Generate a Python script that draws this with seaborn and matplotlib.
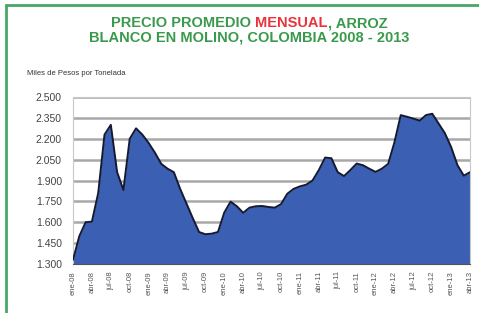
import numpy as np
import pandas as pd
import matplotlib
matplotlib.use("Agg")
import matplotlib.pyplot as plt
import seaborn as sns
from matplotlib.patches import Rectangle

# precio mensual, miles de pesos por tonelada (ene-08 .. abr-13)
precios = [1330, 1500, 1600, 1605, 1810, 2230, 2300, 1960, 1832, 2200,
           2275, 2230, 2170, 2100, 2020, 1985, 1960, 1840, 1735, 1630,
           1530, 1514, 1518, 1530, 1670, 1748, 1715, 1668, 1705, 1715,
           1717, 1710, 1705, 1730, 1805, 1840, 1858, 1870, 1900, 1975,
           2065, 2060, 1960, 1932, 1975, 2022, 2010, 1985, 1962, 1985,
           2020, 2175, 2370, 2358, 2345, 2330, 2370, 2380, 2310, 2240,
           2140, 2010, 1935, 1960]
meses = ["ene", "abr", "jul", "oct"]
anios = ["08", "09", "10", "11", "12", "13"]
etiquetas = [m + "-" + a for a in anios for m in meses][:22]
y_ticks = [1300, 1450, 1600, 1750, 1900, 2050, 2200, 2350, 2500]

df = pd.DataFrame({"mes": np.arange(len(precios)), "precio": precios})

sns.set_style("white")
plt.rcParams["font.family"] = ["Liberation Sans", "DejaVu Sans"]
fig = plt.figure(figsize=(4.79, 3.13), dpi=100)
ax = fig.add_axes([0.1524, 0.1565, 0.829, 0.5335])

verde = "#3a9a4c"
rojo = "#e8343a"
azul = "#3b60b3"

# cuadricula
for v in y_ticks:
    ax.axhline(v, color="#a8a8a8", lw=1.8, zorder=0)

ax.fill_between(df["mes"], 1300, df["precio"], color=azul, lw=0, zorder=2)
sns.lineplot(data=df, x="mes", y="precio", ax=ax, color="#151a30", lw=1.4, zorder=3)

ax.set_xlim(0, len(precios) - 1)
ax.set_ylim(1300, 2500)
ax.set_yticks(y_ticks)
ax.set_yticklabels([f"{v:,}".replace(",", ".") for v in y_ticks],
                   fontsize=7.5, color="#444444")
ax.set_xticks(np.arange(0, 66, 3)[:22])
ax.set_xticklabels(etiquetas, rotation=90, fontsize=5.5, color="#555555")
ax.tick_params(axis="x", length=3, color="#555555", pad=2)
ax.tick_params(axis="y", length=0, pad=8)
ax.set_xlabel("")
ax.set_ylabel("")
for s in ax.spines.values():
    s.set_color("#c8c8c8")
    s.set_linewidth(0.8)
ax.spines["bottom"].set_color("#555555")

# marco verde
fig.patches.append(Rectangle((6 / 479, -0.1), 1.2, 1.1 - 5 / 313,
                             transform=fig.transFigure, fill=False,
                             edgecolor="#45a868", lw=2))

# titulo en partes
renderer = fig.canvas.get_renderer()
partes = [("PRECIO PROMEDIO ", verde), ("MENSUAL", rojo), (", ARROZ", verde)]
kw = dict(fontsize=10.5, fontweight="bold")
ts = [fig.text(0, 0, p, color=c, **kw) for p, c in partes]
anchos = [t.get_window_extent(renderer).width for t in ts]
x = (fig.bbox.width - sum(anchos)) / 2 + 10
for t, w in zip(ts, anchos):
    t.set_position((x / fig.bbox.width, 1 - 27 / 313))
    x += w
t2 = fig.text(0, 1 - 42 / 313, "BLANCO EN MOLINO, COLOMBIA 2008 - 2013",
              color=verde, **kw)
w2 = t2.get_window_extent(renderer).width
t2.set_x(((fig.bbox.width - w2) / 2 + 10) / fig.bbox.width)

fig.text(27 / 479, 1 - 75 / 313, "Miles de Pesos por Tonelada",
         fontsize=5.5, color="#333333")

fig.savefig("out.png", dpi=100, facecolor="white")
